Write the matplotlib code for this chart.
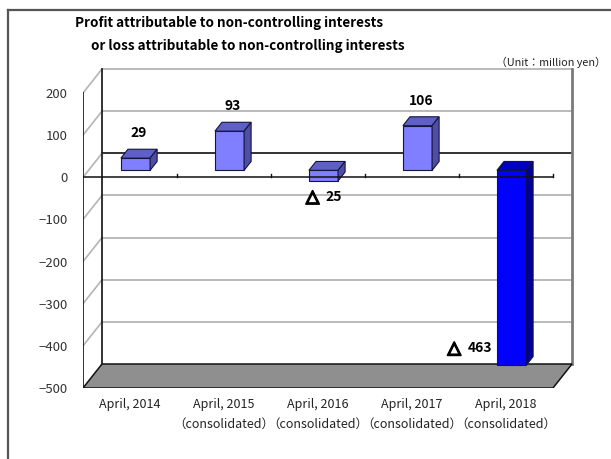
import matplotlib
matplotlib.use("Agg")
import matplotlib.pyplot as plt
import matplotlib.patheffects as pe
from matplotlib.patches import Polygon
from matplotlib.lines import Line2D

# ---------------- data ----------------
categories = ["April, 2014",
              "April, 2015\n（consolidated）",
              "April, 2016\n（consolidated）",
              "April, 2017\n（consolidated）",
              "April, 2018\n（consolidated）"]
values = [29, 93, -25, 106, -463]
highlight = [False, False, False, False, True]
yticks = [200, 100, 0, -100, -200, -300, -400, -500]
title_line1 = "Profit attributable to non-controlling interests"
title_line2 = "or loss attributable to non-controlling interests"
unit_label = "（Unit：million yen）"
neg_mark = "△"

FONT = ["Noto Sans CJK JP", "DejaVu Sans"]
plt.rcParams["font.family"] = FONT

W, H = 611, 459
fig = plt.figure(figsize=(W / 100, H / 100), dpi=100)

# layout (pixels)
PX_PER_CAT = 94.0
PX_PER_UNIT = 0.4214
left_px, bottom_px = 83.0, 388.0
ymin, ymax = -500, 200
xlo, xhi = -0.5, 4.75
ytop_lim = 265
ax_w = (xhi - xlo) * PX_PER_CAT
ax_h = (ytop_lim - ymin) * PX_PER_UNIT
ax = fig.add_axes([left_px / W, (H - bottom_px) / H, ax_w / W, ax_h / H])
ax.set_xlim(xlo, xhi)
ax.set_ylim(ymin, ytop_lim)
for s in ax.spines.values():
    s.set_visible(False)
ax.patch.set_visible(False)

# depth of the 3-D box in data units
DX = 19.0 / PX_PER_CAT
DY = 24.0 / PX_PER_UNIT
x0, x1 = -0.5, len(categories) - 0.5

# back wall
ax.add_patch(Polygon([(x0 + DX, ymin + DY), (x1 + DX, ymin + DY),
                      (x1 + DX, ymax + DY), (x0 + DX, ymax + DY)],
                     closed=True, facecolor="white", edgecolor="none", zorder=1))
for t in yticks:
    col = "#222222" if t == 0 else "#b4b4b4"
    if t == ymin:
        continue
    ax.add_line(Line2D([x0 + DX, x1 + DX], [t + DY, t + DY], color=col, lw=1.3, zorder=2))
    ax.add_line(Line2D([x0, x0 + DX], [t, t + DY], color="#b4b4b4", lw=1.2, zorder=2))
ax.add_line(Line2D([x1 + DX, x1 + DX], [ymin + DY, ymax + DY], color="#7a7a7a", lw=2.0, zorder=2))
ax.add_line(Line2D([x0 + DX, x0 + DX], [ymin + DY, ymax + DY], color="#111111", lw=1.2, zorder=3))
ax.add_line(Line2D([x0, x0], [ymin, ymax], color="#111111", lw=1.2, zorder=3))

# floor
ax.add_patch(Polygon([(x0, ymin), (x1, ymin), (x1 + DX, ymin + DY), (x0 + DX, ymin + DY)],
                     closed=True, facecolor="#8f8f8f", edgecolor="#111111", lw=1.1, zorder=3))

# bars
F0, FD, BW = 0.29, 0.37, 0.31
base = F0 * DY
bdx, bdy = FD * DX, FD * DY
front_c = ["#0000ff" if h else "#7f7fff" for h in highlight]
top_c = ["#0000c4" if h else "#5f5fc8" for h in highlight]
side_c = ["#000098" if h else "#4e4ea6" for h in highlight]
edge = "#14143c"
xs = [i + F0 * DX for i in range(len(values))]
ax.bar(xs, values, width=BW, bottom=base, color=front_c, edgecolor=edge, lw=0.8, zorder=5)


def neg_label(xc, yc, num):
    """triangle mark + number, centred on (xc, yc) in data coords"""
    digits = str(num)
    total_px = 20 + 7.6 * len(digits)
    left_off = -total_px / 2 * 0.72  # points
    ax.annotate(neg_mark, (xc, yc), xytext=(left_off, 0), textcoords="offset points",
                ha="left", va="center", fontsize=12.5, fontweight="bold",
                family=["DejaVu Sans"], color="black", zorder=7,
                path_effects=[pe.withStroke(linewidth=1.3, foreground="black")])
    ax.annotate(digits, (xc, yc), xytext=(left_off + 20 * 0.72, 0), textcoords="offset points",
                ha="left", va="center", fontsize=10, fontweight="bold",
                color="black", zorder=7)


for i, v in enumerate(values):
    xl, xr = xs[i] - BW / 2, xs[i] + BW / 2
    yt, yb = max(base, base + v), min(base, base + v)
    ax.add_patch(Polygon([(xl, yt), (xr, yt), (xr + bdx, yt + bdy), (xl + bdx, yt + bdy)],
                         closed=True, facecolor=top_c[i], edgecolor=edge, lw=0.8, zorder=5))
    ax.add_patch(Polygon([(xr, yb), (xr, yt), (xr + bdx, yt + bdy), (xr + bdx, yb + bdy)],
                         closed=True, facecolor=side_c[i], edgecolor=edge, lw=0.8, zorder=5))
    # data labels
    gap = 16.0 / PX_PER_UNIT
    if v >= 0:
        ax.text(xs[i] + bdx / 2, base + v + bdy + gap, str(v), ha="center", va="center",
                fontsize=10, fontweight="bold", color="black", zorder=7)
    else:
        if base + v - gap - 10 < ymin + DY:
            neg_label(xl - 28.0 / PX_PER_CAT, base + v + 41, abs(v))
        else:
            neg_label(xs[i], base + v - gap, abs(v))

# front zero axis with tick marks
ax.add_line(Line2D([x0, x1], [0, 0], color="#111111", lw=1.1, zorder=6))
for k in range(len(categories)):
    ax.add_line(Line2D([k + 0.5, k + 0.5], [0, 9], color="#111111", lw=1.0, zorder=6))

# ticks
ax.set_yticks(yticks)
ax.set_yticklabels([str(t).replace("-", "−") for t in yticks], fontsize=9.5, color="#333333")
ax.set_xticks(range(len(categories)))
ax.set_xticklabels(categories, fontsize=9, color="#222222", linespacing=1.7, va="top")
ax.tick_params(axis="y", length=0, pad=11)
ax.tick_params(axis="x", length=0, pad=7)

# titles
fig.text(75 / W, 1 - 23 / H, title_line1, ha="left", va="center",
         fontsize=9.7, fontweight="bold", color="black")
fig.text(91 / W, 1 - 46 / H, title_line2, ha="left", va="center",
         fontsize=9.7, fontweight="bold", color="black")
fig.text(606 / W, 1 - 62 / H, unit_label, ha="right", va="center",
         fontsize=7.8, color="#222222")

# frame of chart area
fig.add_artist(Line2D([8 / W, 1.0], [1 - 10 / H, 1 - 10 / H], color="#555555", lw=1.6,
                      transform=fig.transFigure))
fig.add_artist(Line2D([8 / W, 8 / W], [1 - 10 / H, 0.0], color="#555555", lw=1.6,
                      transform=fig.transFigure))

fig.savefig("out.png", dpi=100)
